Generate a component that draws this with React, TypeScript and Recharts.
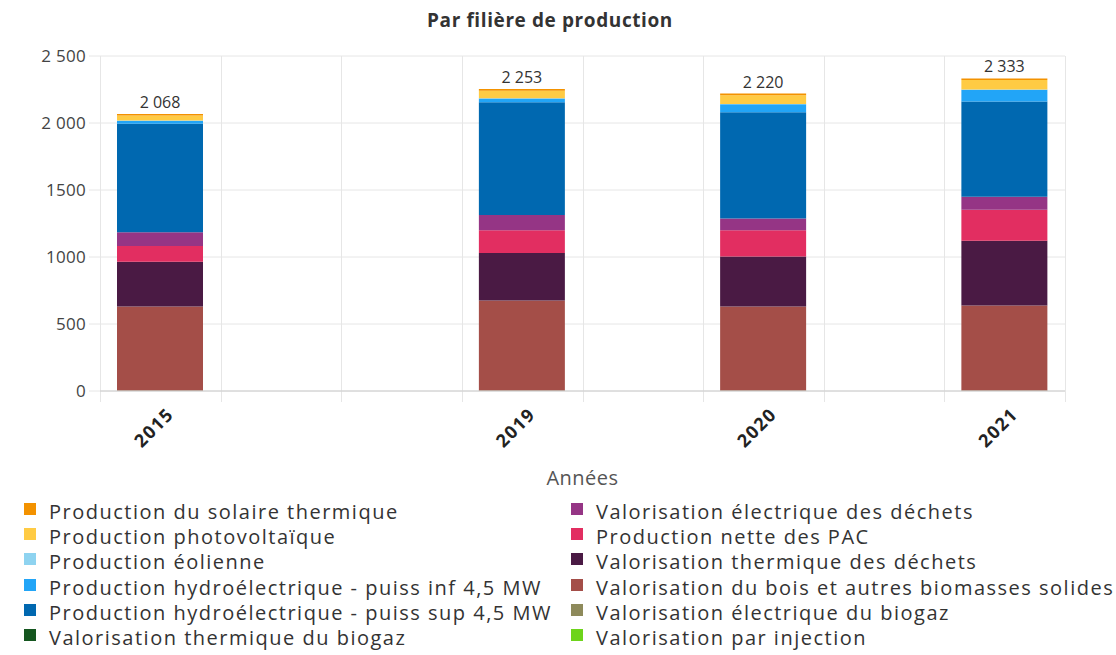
import { BarChart, Bar, XAxis, YAxis, CartesianGrid, Legend, LabelList, usePlotArea } from "recharts";

const FONT = "'Open Sans', sans-serif";

// les années publiées, et leur place sur l'axe (les cases vides restent vides)
const years = ["2015", "2019", "2020", "2021"];
const slotYears = ["2015", "", "", "2019", "", "2020", "", "2021"];

const yTicks = [0, 500, 1000, 1500, 2000, 2500];
const yTickLabels = ["0", "500", "1000", "1500", "2 000", "2 500"];

// GWh par filière, une valeur par année
const solaireThermique = [12, 12, 12, 13];
const photovoltaique = [38, 57, 66, 70];
const eolien = [2, 2, 2, 2];
const hydroInf = [22, 27, 60, 88];
const hydroSup = [810, 841, 793, 710];
const thermiqueBiogaz = [0, 0, 0, 0];
const electriqueDechets = [102, 114, 87, 98];
const pac = [117, 170, 197, 230];
const thermiqueDechets = [334, 355, 373, 484];
const bois = [628, 672, 627, 635];
const electriqueBiogaz = [3, 3, 3, 3];
const injection = [0, 0, 0, 0];
const totals = [2068, 2253, 2220, 2333];

// ordre de la légende (colonne par colonne) = ordre de la pile, du haut vers le bas
const series = [
  { key: "solaireThermique", name: "Production du solaire thermique", color: "#f39200", values: solaireThermique },
  { key: "photovoltaique", name: "Production photovoltaïque", color: "#ffcb44", values: photovoltaique },
  { key: "eolien", name: "Production éolienne", color: "#8ed3f0", values: eolien },
  { key: "hydroInf", name: "Production hydroélectrique - puiss inf 4,5 MW", color: "#22a5f7", values: hydroInf },
  { key: "hydroSup", name: "Production hydroélectrique - puiss sup 4,5 MW", color: "#0068b0", values: hydroSup },
  { key: "thermiqueBiogaz", name: "Valorisation thermique du biogaz", color: "#15561f", values: thermiqueBiogaz },
  { key: "electriqueDechets", name: "Valorisation électrique des déchets", color: "#953585", values: electriqueDechets },
  { key: "pac", name: "Production nette des PAC", color: "#e22e61", values: pac },
  { key: "thermiqueDechets", name: "Valorisation thermique des déchets", color: "#4a1a44", values: thermiqueDechets },
  { key: "bois", name: "Valorisation du bois et autres biomasses solides", color: "#a44e48", values: bois },
  { key: "electriqueBiogaz", name: "Valorisation électrique du biogaz", color: "#8e8a5b", values: electriqueBiogaz },
  { key: "injection", name: "Valorisation par injection", color: "#6dd41b", values: injection },
];

const fmt = (v: number) => String(v).replace(/\B(?=(\d{3})+(?!\d))/g, " ");

const data = slotYears.map((year, i) => {
  const row: Record<string, any> = { slot: year || `vide${i}` };
  const idx = years.indexOf(year);
  if (idx >= 0) {
    series.forEach((s) => (row[s.key] = s.values[idx]));
    row.totalLabel = fmt(totals[idx]);
  }
  return row;
});

function SlotLines() {
  const plot = usePlotArea();
  if (!plot) return null;
  const step = plot.width / slotYears.length;
  return (
    <g>
      {slotYears.concat([""]).map((_, i) => {
        const x = Math.round(plot.x + i * step) + 0.5;
        return <line key={i} x1={x} x2={x} y1={plot.y} y2={plot.y + plot.height + 11} stroke="#e6e6e6" />;
      })}
    </g>
  );
}

function YearTick({ x, y, payload }: any) {
  return (
    <g transform={`translate(${x + 10},${y + 12})`}>
      <text transform="rotate(-45)" textAnchor="end" dy="0.35em" fontSize={18} letterSpacing={1.4} fontWeight={700} fill="#222" fontFamily={FONT}>
        {payload.value}
      </text>
    </g>
  );
}

function LegendGrid() {
  return (
    <div
      style={{
        display: "grid",
        gridTemplateColumns: "547px 545px",
        gridTemplateRows: "repeat(6, 25.2px)",
        gridAutoFlow: "column",
        paddingLeft: 24,
        paddingTop: 5,
        height: 160,
        boxSizing: "border-box",
        fontFamily: FONT,
      }}
    >
      {series.map((s) => (
        <div
          key={s.key}
          style={{ display: "flex", alignItems: "flex-start", fontSize: 20, letterSpacing: 1.5, lineHeight: "24px", color: "#333", whiteSpace: "nowrap" }}
        >
          <span style={{ width: 12, height: 12, background: s.color, marginTop: 3, marginRight: 13, flex: "none" }} />
          {s.name}
        </div>
      ))}
    </div>
  );
}

export default function App() {
  const stackBottomUp = [...series].reverse();
  return (
    <div style={{ position: "absolute", left: 0, top: 0, width: 1116, height: 655, background: "#fff", fontFamily: FONT }}>
      <div
        style={{
          position: "absolute",
          top: 8,
          left: 0,
          width: 1100,
          textAlign: "center",
          fontSize: 19,
          letterSpacing: 0.6,
          lineHeight: "24px",
          fontWeight: 700,
          color: "#333",
        }}
      >
        Par filière de production
      </div>
      <BarChart width={1116} height={655} data={data} margin={{ top: 56, right: 51, left: 0, bottom: 0 }} barSize={86}>
        <CartesianGrid vertical={false} stroke="#e6e6e6" />
        <SlotLines />
        <XAxis
          dataKey="slot"
          ticks={years}
          interval={0}
          height={104}
          tick={<YearTick />}
          tickLine={false}
          axisLine={{ stroke: "#ccc" }}
          label={{ value: "Années", position: "insideBottom", offset: 10, fontSize: 20, letterSpacing: 0.5, fill: "#555", fontFamily: FONT }}
        />
        <YAxis
          width={100}
          domain={[0, 2500]}
          ticks={yTicks}
          interval={0}
          tickFormatter={(v: number) => yTickLabels[yTicks.indexOf(v)]}
          axisLine={false}
          tickLine={{ stroke: "#e6e6e6" }}
          tickSize={11}
          tickMargin={3}
          tick={{ fontSize: 17, letterSpacing: 0.3, fill: "#444", fontFamily: FONT }}
        />
        <Legend verticalAlign="bottom" align="left" content={() => <LegendGrid />} wrapperStyle={{ left: 0, bottom: 0, width: 1116 }} />
        {stackBottomUp.map((s, i) => (
          <Bar key={s.key} dataKey={s.key} name={s.name} stackId="prod" fill={s.color} isAnimationActive={false}>
            {i === stackBottomUp.length - 1 && (
              <LabelList dataKey="totalLabel" position="top" offset={6} fontSize={16} fill="#333" fontFamily={FONT} />
            )}
          </Bar>
        ))}
      </BarChart>
    </div>
  );
}
